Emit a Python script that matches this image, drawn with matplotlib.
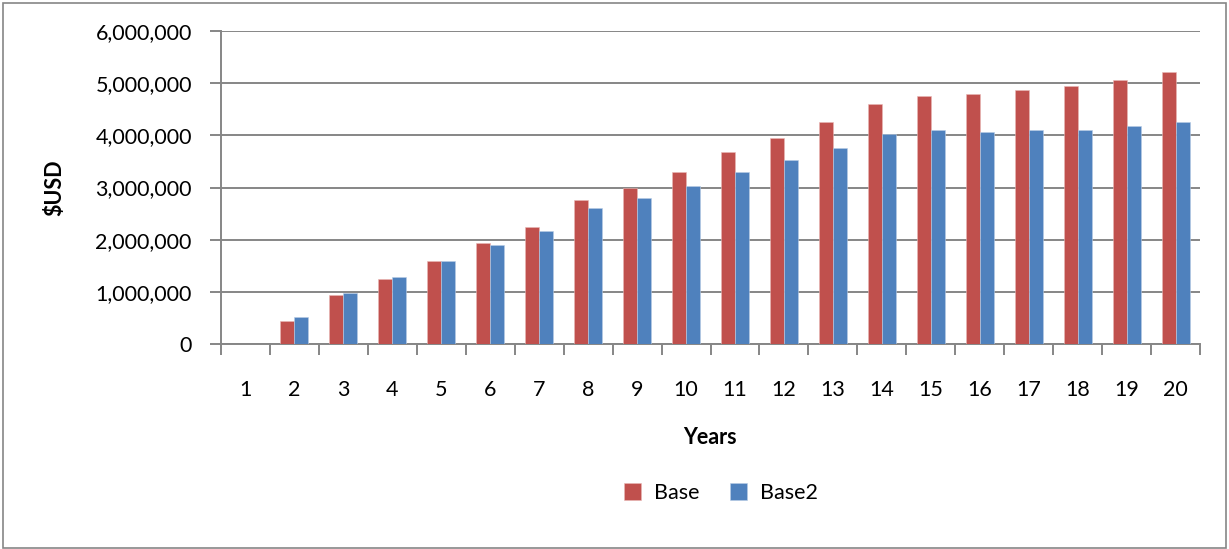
import matplotlib
matplotlib.use("Agg")
import matplotlib.pyplot as plt
from matplotlib.patches import Rectangle
from matplotlib.ticker import FuncFormatter
import numpy as np

years = [str(i) for i in range(1, 21)]
base = [0, 434000, 933000, 1240000, 1585000, 1930000, 2236000, 2767000, 2997000, 3304000,
        3681000, 3949000, 4256000, 4601000, 4754000, 4792000, 4869000, 4946000, 5061000, 5214000]
base2 = [0, 511000, 971000, 1278000, 1585000, 1891000, 2160000, 2613000, 2805000, 3035000,
         3304000, 3534000, 3764000, 4026000, 4102000, 4064000, 4102000, 4102000, 4179000, 4256000]
series_names = ["Base", "Base2"]
colors = ["#C0504D", "#4F81BD"]

plt.rcParams['font.family'] = ['Lato', 'DejaVu Sans']
FS = 15.5

W, H = 1229, 549
fig = plt.figure(figsize=(W / 100, H / 100), dpi=100)
ax = fig.add_axes([221 / W, 1 - 344 / H, (1200 - 221) / W, (344 - 31) / H])

x = np.arange(len(years))
bw = 0.286
ax.bar(x - bw / 2, base, bw, color=colors[0], label=series_names[0],
       edgecolor="#E8B8B6", linewidth=0.4, zorder=3)
ax.bar(x + bw / 2, base2, bw, color=colors[1], label=series_names[1],
       edgecolor="#B9CDE5", linewidth=0.4, zorder=3)

ax.set_xlim(-0.5, len(years) - 0.5)
ax.set_ylim(0, 6000000)
ax.set_yticks(np.arange(0, 6000001, 1000000))
ax.yaxis.set_major_formatter(FuncFormatter(lambda v, p: f"{int(v):,}"))
ax.grid(axis="y", color="#868686", linewidth=1.4, zorder=0)

# category boundary ticks on the x axis, labels centred between them
ax.set_xticks(np.arange(-0.5, len(years), 1.0))
ax.set_xticklabels([])
ax.set_xticks(x, minor=True)
ax.set_xticklabels(years, minor=True)
ax.tick_params(axis="x", which="major", length=8, width=1.4, color="#868686", direction="out")
ax.tick_params(axis="x", which="minor", length=0, pad=26, labelsize=FS)
ax.tick_params(axis="y", length=8, width=1.4, color="#868686", direction="out",
               labelsize=FS, pad=13)

for s in ["top", "right"]:
    ax.spines[s].set_visible(False)
for s in ["left", "bottom"]:
    ax.spines[s].set_color("#868686")
    ax.spines[s].set_linewidth(1.4)

fig.text(55 / W, 1 - 188 / H, "$USD", rotation=90, ha="center", va="center",
         fontsize=FS, fontweight="bold")
fig.text(710 / W, 1 - 438 / H, "Years", ha="center", va="center",
         fontsize=FS, fontweight="bold")

leg = fig.legend(loc="center", bbox_to_anchor=(721 / W, 1 - 493 / H), ncol=2, frameon=False,
                 fontsize=FS, handlelength=0.8, handleheight=0.8, handletextpad=0.6,
                 columnspacing=1.4)

fig.patches.append(Rectangle((3 / W, 1 / H), (W - 6) / W, (H - 4) / H,
                             transform=fig.transFigure, fill=False,
                             edgecolor="#868686", linewidth=1.2))

fig.savefig("out.png", dpi=100, facecolor="white")
